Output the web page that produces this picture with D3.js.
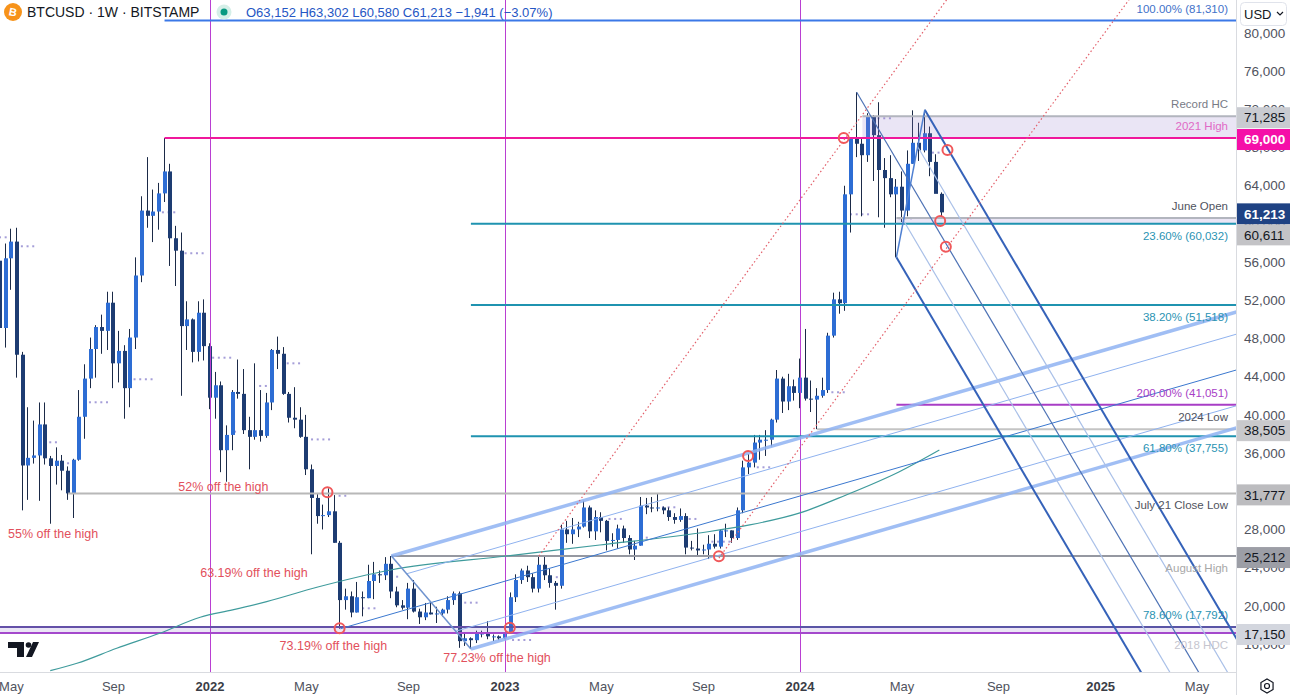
<!DOCTYPE html>
<html>
<head>
<meta charset="utf-8">
<script src="https://cdn.jsdelivr.net/npm/d3@7"></script>
<style>
  body { margin: 0; background: #fff; }
  svg { display: block; font-family: "Liberation Sans", Arial, sans-serif; }
</style>
</head>
<body>
<svg id="chart" width="1290" height="695"></svg>
<script>
// weekly candles: [week start, open, high, low, close]
const candles = [
  ['2021-04-19',56150,56900,47000,49100],['2021-04-26',49100,57950,47050,56400],
  ['2021-05-03',56400,59500,53100,58150],['2021-05-10',58150,59600,43900,46300],
  ['2021-05-17',46300,46600,30000,34700],['2021-05-24',34700,40800,31100,35500],
  ['2021-05-31',35500,39400,34900,35750],['2021-06-07',35750,41300,31000,39000],
  ['2021-06-14',39000,41300,34800,35450],['2021-06-21',35450,35700,28600,34650],
  ['2021-06-28',34650,36600,32700,35200],['2021-07-05',35200,35800,32100,34150],
  ['2021-07-12',34150,34600,31100,31777],['2021-07-19',31777,35400,29200,35300],
  ['2021-07-26',35300,42600,35200,39800],['2021-08-02',39800,45300,37500,43800],
  ['2021-08-09',43800,48100,42800,46900],['2021-08-16',46900,49400,43900,49200],
  ['2021-08-23',49200,50500,46400,48800],['2021-08-30',48800,52900,46800,51750],
  ['2021-09-06',51750,52900,42800,45400],['2021-09-13',45400,48800,43400,46700],
  ['2021-09-20',46700,47300,39600,42800],['2021-09-27',42800,49000,40800,48100],
  ['2021-10-04',48100,56500,46900,54600],['2021-10-11',54600,62900,53900,61400],
  ['2021-10-18',61400,67000,59600,60850],['2021-10-25',60850,63600,58100,61300],
  ['2021-11-01',61300,64300,59400,63200],['2021-11-08',63200,69000,62300,65500],
  ['2021-11-15',65500,66300,55600,58500],['2021-11-22',58500,59800,53500,57200],
  ['2021-11-29',57200,59100,42000,49300],['2021-12-06',49300,51900,46800,50000],
  ['2021-12-13',50000,50100,45500,46600],['2021-12-20',46600,51900,45600,50700],
  ['2021-12-27',50700,52100,45700,47200],
  ['2022-01-03',47200,47500,40600,41800],['2022-01-10',41800,44500,39600,43100],
  ['2022-01-17',43100,43500,34000,36300],['2022-01-24',36300,38900,33000,37900],
  ['2022-01-31',37900,42600,36300,42400],['2022-02-07',42400,45800,41700,42200],
  ['2022-02-14',42200,44800,38000,38400],['2022-02-21',38400,39800,34300,37700],
  ['2022-02-28',37700,45400,37400,38400],['2022-03-07',38400,42600,37200,37800],
  ['2022-03-14',37800,42300,37600,41300],['2022-03-21',41300,46900,40500,46800],
  ['2022-03-28',46800,48200,44800,46400],['2022-04-04',46400,47100,42100,42200],
  ['2022-04-11',42200,42400,39200,39700],['2022-04-18',39700,42900,38600,39500],
  ['2022-04-25',39500,40800,37600,37700],['2022-05-02',37700,40000,33700,34300],
  ['2022-05-09',34300,34800,25400,31300],['2022-05-16',31300,31700,28600,29400],
  ['2022-05-23',29400,30600,28000,29500],['2022-05-30',29500,32300,29300,29900],
  ['2022-06-06',29900,31600,26600,26600],['2022-06-13',26600,26800,17600,20600],
  ['2022-06-20',20600,21800,19600,21000],['2022-06-27',21000,21500,18800,19300],
  ['2022-07-04',19300,22500,19300,20900],['2022-07-11',20900,21500,18900,20800],
  ['2022-07-18',20800,24300,20800,22600],['2022-07-25',22600,24600,20700,23300],
  ['2022-08-01',23300,23700,22400,23200],['2022-08-08',23200,25100,22700,24400],
  ['2022-08-15',24400,25212,20800,21500],['2022-08-22',21500,22000,19850,20050],
  ['2022-08-29',20050,20600,19600,19800],['2022-09-05',19800,22400,18600,21800],
  ['2022-09-12',21800,22700,19300,19400],['2022-09-19',19400,19700,18100,18800],
  ['2022-09-26',18800,20300,18500,19300],['2022-10-03',19300,20500,19100,19100],
  ['2022-10-10',19100,19900,18200,19200],['2022-10-17',19200,19700,18900,19600],
  ['2022-10-24',19600,21000,19200,20600],['2022-10-31',20600,21500,20100,21300],
  ['2022-11-07',21300,21500,15600,16300],['2022-11-14',16300,17200,15800,16600],
  ['2022-11-21',16600,16700,15480,16400],['2022-11-28',16400,17400,16100,17100],
  ['2022-12-05',17100,17400,16700,17100],['2022-12-12',17100,18400,16500,16800],
  ['2022-12-19',16800,17000,16300,16800],['2022-12-26',16800,16900,16400,16600],
  ['2023-01-02',16600,17200,16500,17100],['2023-01-09',17100,21400,17100,20900],
  ['2023-01-16',20900,23300,20400,22700],['2023-01-23',22700,23900,22300,23700],
  ['2023-01-30',23700,24200,22500,23000],['2023-02-06',23000,23400,21400,21800],
  ['2023-02-13',21800,25200,21400,24300],['2023-02-20',24300,25200,22700,23200],
  ['2023-02-27',23200,23900,21900,22400],['2023-03-06',22400,22600,19600,22100],
  ['2023-03-13',22100,28500,21800,28000],['2023-03-20',28000,28900,26600,27500],
  ['2023-03-27',27500,29200,26500,28000],['2023-04-03',28000,28800,27200,28300],
  ['2023-04-10',28300,31000,28200,30300],['2023-04-17',30300,30500,27100,27800],
  ['2023-04-24',27800,30000,26900,29300],['2023-05-01',29300,29800,27700,28900],
  ['2023-05-08',28900,29000,25800,26800],['2023-05-15',26800,27600,26200,26900],
  ['2023-05-22',26900,28500,26000,28100],['2023-05-29',28100,28400,26600,27100],
  ['2023-06-05',27100,27400,25400,25900],['2023-06-12',25900,26800,24800,26300],
  ['2023-06-19',26300,31400,26300,30500],['2023-06-26',30500,31300,29600,30300],
  ['2023-07-03',30300,31400,29800,30200],['2023-07-10',30200,31800,29900,30300],
  ['2023-07-17',30300,30400,29600,30000],['2023-07-24',30000,30300,28900,29300],
  ['2023-07-31',29300,29700,28600,29000],['2023-08-07',29000,30200,28800,29400],
  ['2023-08-14',29400,29700,25400,26100],['2023-08-21',26100,26800,25800,26000],
  ['2023-08-28',26000,28100,25300,25800],['2023-09-04',25800,26400,25400,25900],
  ['2023-09-11',25900,27400,24900,26500],['2023-09-18',26500,27500,26000,26200],
  ['2023-09-25',26200,28000,26000,27900],['2023-10-02',27900,28600,27200,27900],
  ['2023-10-09',27900,27900,26600,27100],['2023-10-16',27100,30300,26900,30000],
  ['2023-10-23',30000,35200,29700,34500],['2023-10-30',34500,35900,33800,35000],
  ['2023-11-06',35000,37900,34500,37100],['2023-11-13',37100,37900,35300,37400],
  ['2023-11-20',37400,38400,35700,37400],['2023-11-27',37400,39600,36700,39500],
  ['2023-12-04',39500,44700,39200,43800],['2023-12-11',43800,44000,40200,41400],
  ['2023-12-18',41400,44300,40500,43000],['2023-12-25',43000,43700,41500,42300],
  ['2024-01-01',42300,45900,40700,43900],['2024-01-08',43900,49000,41500,41700],
  ['2024-01-15',41700,43600,40300,41600],['2024-01-22',41600,42800,38505,42000],
  ['2024-01-29',42000,43900,41800,42600],['2024-02-05',42600,48600,42300,48300],
  ['2024-02-12',48300,52800,48100,52100],['2024-02-19',52100,52900,50600,51700],
  ['2024-02-26',51700,64000,50900,63100],['2024-03-04',63100,69000,59100,68950],
  ['2024-03-11',68950,73800,67000,68400],['2024-03-18',68400,68900,60800,67200],
  ['2024-03-25',67200,71600,66500,71285],['2024-04-01',71285,71400,64500,69300],
  ['2024-04-08',69300,72750,60700,65650],['2024-04-15',65650,66900,59600,64800],
  ['2024-04-22',64800,67200,62800,63100],['2024-04-29',63100,64700,56500,63900],
  ['2024-05-06',63900,65500,60200,61400],['2024-05-13',61400,67700,60800,66300],
  ['2024-05-20',66300,71900,66300,68500],['2024-05-27',68500,70600,66600,67700],
  ['2024-06-03',67700,71950,67500,69500],['2024-06-10',69500,70200,65000,66500],
  ['2024-06-17',66500,67300,63400,63152],['2024-06-24',63152,63302,60580,61213]
];

// moving average line
const maPoints = [
  ['2021-06-20',13210],['2021-07-23',13980],['2021-09-10',15550],['2021-11-02',17120],
  ['2021-12-22',18800],['2022-01-31',19570],['2022-03-14',20440],['2022-05-15',21940],
  ['2022-08-14',23750],['2023-01-04',25220],['2023-04-29',26370],['2023-08-30',27630],
  ['2023-10-31',28470],['2024-01-01',29730],['2024-02-27',31610],['2024-05-02',34020],
  ['2024-06-21',36320]
];

// pivot dot runs: [first week, price, number of weeks]
const pivots = [
  ['2021-04-19',58600,2],['2021-05-16',57660,3],['2021-06-20',37130,2],['2021-07-12',34930,2],
  ['2021-08-08',41320,4],['2021-10-02',43730,4],['2021-11-06',61220,3],['2021-12-04',56930,4],
  ['2022-01-07',45990,4],['2022-02-03',38240,1],['2022-03-06',43030,3],['2022-04-09',45400,3],
  ['2022-05-09',37430,4],['2022-06-12',31530,2],['2022-07-11',19740,3],['2022-08-22',23050,1],
  ['2022-11-14',20330,3],['2023-01-12',16420,4],['2023-03-07',23000,2],['2023-05-11',29100,3],
  ['2023-06-26',27140,1],['2023-07-16',30320,3],['2023-08-18',29100,2],['2023-09-15',26720,4],
  ['2023-11-10',34510,3],['2024-02-10',42370,3],['2024-03-04',61010,4],['2024-03-31',71070,4],
  ['2024-05-03',60590,3],['2024-06-13',67470,2]
];

// horizontal levels: [key, label, price, start]
const levels = [
  ['zoneTop', '', 17792, '2021-04-19'],
  ['hdc', '2018 HDC', 17150, '2021-04-19'],
  ['fib786', '78.60% (17,792)', 17792, '2022-11-21'],
  ['aug', 'August High', 25212, '2022-08-15'],
  ['jul21', 'July 21 Close Low', 31777, '2021-07-12'],
  ['fib618', '61.80% (37,755)', 37755, '2022-11-21'],
  ['low24', '2024 Low', 38505, '2024-01-22'],
  ['ext200', '200.00% (41,051)', 41051, '2024-04-29'],
  ['fib382', '38.20% (51,518)', 51518, '2022-11-21'],
  ['fib236', '23.60% (60,032)', 60032, '2022-11-21'],
  ['june', 'June Open', 60611, '2024-04-29'],
  ['high21', '2021 High', 69000, '2021-11-08'],
  ['hc', 'Record HC', 71285, '2024-03-18'],
  ['ext100', '100.00% (81,310)', 81310, '2021-11-08']
];

// shaded zones: [low, high, start]
const zones = [[69000, 71285, '2024-03-18'], [60032, 60611, '2024-04-29'], [17150, 17792, '2021-04-19']];

const yearLines = ['2022-01-03', '2023-01-02', '2024-01-01'];

// pitchfork anchors [A, B, C]
const upFork = [['2022-06-13', 17600], ['2022-08-15', 25212], ['2022-11-21', 15480]];
const downFork = [['2024-03-11', 73800], ['2024-06-03', 71950], ['2024-04-29', 56500]];

// dotted trend lines through two points
const trendLines = [
  [['2023-02-13', 25212], ['2024-02-26', 69000]],
  [['2023-09-23', 25000], ['2024-07-01', 57600]]
];

const circles = [
  ['2022-05-28', 31900], ['2022-06-12', 17650], ['2023-01-08', 17700], ['2023-09-23', 25200],
  ['2023-10-29', 35700], ['2024-02-24', 69000], ['2024-07-01', 67750], ['2024-06-22', 60300],
  ['2024-06-29', 57600]
];

const notes = [
  ['55% off the high', '2021-04-29', 27520],
  ['52% off the high', '2021-11-25', 32440],
  ['63.19% off the high', '2021-12-22', 23440],
  ['73.19% off the high', '2022-03-30', 15790],
  ['77.23% off the high', '2022-10-18', 14560]
];

// price tags on the scale: [price, key]
const tags = [[71285, 'hc'], [69000, 'high21'], [61213, 'last'], [60611, 'june'],
  [38505, 'low24'], [31777, 'jul21'], [25212, 'aug'], [17150, 'hdc']];

const timeTicks = [
  ['2021-05-03', 'May'], ['2021-09-06', 'Sep'], ['2022-01-03', '2022'], ['2022-05-02', 'May'],
  ['2022-09-05', 'Sep'], ['2023-01-02', '2023'], ['2023-05-01', 'May'], ['2023-09-04', 'Sep'],
  ['2024-01-01', '2024'], ['2024-05-06', 'May'], ['2024-09-02', 'Sep'], ['2025-01-06', '2025'],
  ['2025-05-05', 'May']
];

const header = 'BTCUSD · 1W · BITSTAMP';
const ohlc = 'O63,152 H63,302 L60,580 C61,213 \u22121,941 (\u22123.07%)';

// ---------- styles ----------
const levelStyle = {
  zoneTop: { c: '#6450a8', w: 2 },
  hdc: { c: '#a449cc', w: 2, lc: '#c6c6cf', side: 1 },
  fib786: { c: '#5a55a6', w: 2, lc: '#2a93b3', side: -1 },
  aug: { c: '#9598a1', w: 2, lc: '#a8a8a8', side: 1 },
  jul21: { c: '#b8b8b8', w: 2, lc: '#50535e', side: 1 },
  fib618: { c: '#1f93b0', w: 2, lc: '#2a93b3', side: 1 },
  low24: { c: '#c4c4c4', w: 2, lc: '#50535e', side: -1 },
  ext200: { c: '#a83ec6', w: 2, lc: '#a83ec6', side: -1 },
  fib382: { c: '#1f93b0', w: 2, lc: '#2a93b3', side: 1 },
  fib236: { c: '#1f93b0', w: 2, lc: '#2a93b3', side: 1 },
  june: { c: '#b2b5be', w: 2, lc: '#50535e', side: -1 },
  high21: { c: '#f0189c', w: 2, lc: '#e06ac6', side: -1 },
  hc: { c: '#b2b5be', w: 2, lc: '#787b86', side: -1 },
  ext100: { c: '#3b78e7', w: 2, lc: '#3f72c9', side: -1 }
};
const tagStyle = {
  hc: ['#c9cbd1', '#131722', 400], high21: ['#f50fa8', '#fff', 700], last: ['#1f4283', '#fff', 700],
  june: ['#c3c3c6', '#131722', 400], low24: ['#c9c9cc', '#131722', 400], jul21: ['#bcbcbf', '#131722', 400],
  aug: ['#9c9ea6', '#131722', 400], hdc: ['#d3d6de', '#131722', 400]
};

const W = 1290, H = 695, plotW = 1236, plotH = 672;
const parse = d3.utcParse('%Y-%m-%d');
const x = d3.scaleUtc().domain([parse('2021-04-19'), parse('2025-06-22')]).range([0, plotW]);
const y = d3.scaleLinear().domain([13172, 83457]).range([671, 0]);
const px = s => x(parse(s));
const week = 7 * 864e5;

const svg = d3.select('#chart');
svg.append('rect').attr('width', W).attr('height', H).attr('fill', '#fff');

svg.append('defs').append('clipPath').attr('id', 'plotClip')
  .append('rect').attr('width', plotW).attr('height', plotH);

const plot = svg.append('g').attr('clip-path', 'url(#plotClip)');

// pivot dots
const dots = pivots.flatMap(p => d3.range(p[2]).map(i => [+parse(p[0]) + i * week, p[1]]));
plot.append('g').selectAll('rect').data(dots).join('rect')
  .attr('x', d => x(d[0]) - 1).attr('y', d => y(d[1]) - 1)
  .attr('width', 2).attr('height', 2)
  .attr('fill', '#a59ed8');

// candles
const gC = plot.append('g');
const cx = d => Math.round(px(d[0]));
gC.selectAll('rect.wick').data(candles).join('rect')
  .attr('class', 'wick')
  .attr('x', d => cx(d) - 1)
  .attr('width', 1)
  .attr('y', d => y(d[2]))
  .attr('height', d => y(d[3]) - y(d[2]))
  .attr('fill', '#1b2a47');
gC.selectAll('rect.body').data(candles).join('rect')
  .attr('class', 'body')
  .attr('x', d => cx(d) - 2)
  .attr('width', 4)
  .attr('y', d => y(Math.max(d[1], d[4])))
  .attr('height', d => Math.max(1, Math.abs(y(d[1]) - y(d[4]))))
  .attr('fill', d => d[4] >= d[1] ? '#2d6dd4' : '#1d3c72');

// zones
plot.append('g').selectAll('rect').data(zones).join('rect')
  .attr('x', d => px(d[2]))
  .attr('width', d => plotW - px(d[2]))
  .attr('y', d => y(d[1]))
  .attr('height', d => y(d[0]) - y(d[1]))
  .attr('fill', 'rgba(150,125,205,0.2)');

// year separators
plot.append('g').selectAll('line').data(yearLines).join('line')
  .attr('x1', d => Math.round(px(d)) + 0.5).attr('x2', d => Math.round(px(d)) + 0.5)
  .attr('y1', 0).attr('y2', plotH)
  .attr('stroke', '#b93fd2').attr('stroke-width', 1);

// horizontal levels
plot.append('g').selectAll('line').data(levels).join('line')
  .attr('x1', d => px(d[3])).attr('x2', plotW)
  .attr('y1', d => y(d[2])).attr('y2', d => y(d[2]))
  .attr('stroke', d => levelStyle[d[0]].c)
  .attr('stroke-width', d => levelStyle[d[0]].w);

// moving average
plot.append('path')
  .datum(maPoints)
  .attr('fill', 'none')
  .attr('stroke', '#3f9b9c')
  .attr('stroke-width', 1.2)
  .attr('d', d3.line().x(d => px(d[0])).y(d => y(d[1])).curve(d3.curveMonotoneX));

// pitchforks
const gD = plot.append('g');
function seg(p, q, s) {
  gD.append('line')
    .attr('x1', p[0]).attr('y1', p[1]).attr('x2', q[0]).attr('y2', q[1])
    .attr('stroke', s[0]).attr('stroke-width', s[1]).attr('stroke-opacity', s[2] || 1);
}
function drawFork(anchors, ks, st) {
  const [A, B, C] = anchors.map(a => [px(a[0]), y(a[1])]);
  const M = [(B[0] + C[0]) / 2, (B[1] + C[1]) / 2];
  const d = [M[0] - A[0], M[1] - A[1]];
  const far = 40;
  const ext = p => [p[0] + d[0] * far, p[1] + d[1] * far];
  ks.forEach(k => {
    const P = [M[0] + k * (B[0] - M[0]), M[1] + k * (B[1] - M[1])];
    seg(P, ext(P), st.inner);
  });
  seg(B, ext(B), st.tine);
  seg(C, ext(C), st.tine);
  seg(A, ext(A), st.median);
  seg(B, C, st.handle);
}
drawFork(upFork, [0.618, -0.618], {
  inner: ['#8fb2ef', 1], tine: ['#8fb3f2', 3.5, 0.85], median: ['#3b78cf', 1], handle: ['#6f93cf', 1.5]
});
drawFork(downFork, [0.5, -0.5], {
  inner: ['#a9c0e8', 1.2], tine: ['#3562b9', 2], median: ['#4d72b5', 1.2], handle: ['#4f80d2', 1.5]
});

// dotted trend lines
trendLines.forEach(t => {
  const p = [px(t[0][0]), y(t[0][1])], q = [px(t[1][0]), y(t[1][1])];
  const far = 10;
  gD.append('line')
    .attr('x1', p[0]).attr('y1', p[1])
    .attr('x2', p[0] + (q[0] - p[0]) * far).attr('y2', p[1] + (q[1] - p[1]) * far)
    .attr('stroke', '#e3606b').attr('stroke-width', 1.2).attr('stroke-dasharray', '1.5,2.5');
});

// circles
plot.append('g').selectAll('circle').data(circles).join('circle')
  .attr('cx', d => px(d[0])).attr('cy', d => y(d[1])).attr('r', 5)
  .attr('fill', 'none').attr('stroke', '#f0585a').attr('stroke-width', 2);

// notes
plot.append('g').selectAll('text').data(notes).join('text')
  .attr('x', d => px(d[1])).attr('y', d => y(d[2]))
  .attr('dy', '0.35em')
  .attr('font-size', 12.5)
  .attr('fill', '#e2505c')
  .text(d => d[0]);

// level labels
plot.append('g').selectAll('text').data(levels.filter(d => d[1])).join('text')
  .attr('x', 1228)
  .attr('y', d => y(d[2]) + levelStyle[d[0]].side * 12)
  .attr('dy', '0.35em')
  .attr('text-anchor', 'end')
  .attr('font-size', 11.5)
  .attr('fill', d => levelStyle[d[0]].lc)
  .text(d => d[1]);

// TradingView logo
const logo = svg.append('g').attr('fill', '#131722');
logo.append('path').attr('d', 'M8,642 H24 V657 H17 V648 H8 Z');
logo.append('circle').attr('cx', 28.5).attr('cy', 645).attr('r', 2.8);
logo.append('path').attr('d', 'M33,642 H39 L32,657 H26 Z');

// time axis
svg.append('line').attr('x1', 0).attr('x2', plotW).attr('y1', plotH + 0.5).attr('y2', plotH + 0.5)
  .attr('stroke', '#d9dbe0');
svg.append('g').selectAll('text').data(timeTicks).join('text')
  .attr('x', d => px(d[0])).attr('y', 686).attr('dy', '0.35em')
  .attr('text-anchor', 'middle')
  .attr('font-size', 13)
  .attr('font-weight', d => /^\d/.test(d[1]) ? 700 : 400)
  .attr('fill', d => /^\d/.test(d[1]) ? '#3a3d46' : '#50535e')
  .text(d => d[1]);

// price tags, stacked so they do not overlap
const tagH = 21;
let prev = -Infinity;
const placed = tags.slice().sort((a, b) => b[0] - a[0]).map(t => {
  let c = y(t[0]) + 1.5;
  if (c < prev + tagH) c = prev + tagH;
  prev = c;
  return [t, c];
});

// price axis
const axisG = svg.append('g');
axisG.append('rect').attr('x', plotW).attr('width', W - plotW).attr('height', H).attr('fill', '#fff');
axisG.append('line').attr('x1', plotW + 0.5).attr('x2', plotW + 0.5).attr('y1', 0).attr('y2', H)
  .attr('stroke', '#d9dbe0');
// tick labels that a tag covers completely are not drawn
const ticks = d3.range(16000, 80001, 4000)
  .filter(v => !placed.some(([, c]) => Math.abs(c - y(v)) < 5));
axisG.selectAll('text.tick').data(ticks).join('text')
  .attr('class', 'tick')
  .attr('x', 1244).attr('y', d => y(d)).attr('dy', '0.35em')
  .attr('font-size', 13.5).attr('fill', '#50535e')
  .text(d3.format(','));

placed.forEach(([t, c]) => {
  const s = tagStyle[t[1]];
  axisG.append('rect').attr('x', plotW + 1).attr('y', c - tagH / 2).attr('width', W - plotW - 1)
    .attr('height', tagH).attr('fill', s[0]);
  axisG.append('text').attr('x', 1244).attr('y', c).attr('dy', '0.35em')
    .attr('font-size', 13.5).attr('font-weight', s[2]).attr('fill', s[1])
    .text(d3.format(',')(t[0]));
});

// currency selector
axisG.append('rect').attr('x', 1240.5).attr('y', 2.5).attr('width', 46).attr('height', 23).attr('rx', 4)
  .attr('fill', '#fff').attr('stroke', '#e0e3eb');
axisG.append('text').attr('x', 1244).attr('y', 14).attr('dy', '0.35em')
  .attr('font-size', 13).attr('fill', '#131722').text('USD');
axisG.append('path').attr('d', 'M1277,12 l3,3 l3,-3').attr('fill', 'none')
  .attr('stroke', '#131722').attr('stroke-width', 1.2);

// settings icon
const hex = d3.range(6).map(i => {
  const a = Math.PI / 3 * i + Math.PI / 6;
  return [1267 + 7 * Math.cos(a), 686 + 7 * Math.sin(a)];
});
svg.append('path').attr('d', 'M' + hex.join('L') + 'Z').attr('fill', 'none')
  .attr('stroke', '#131722').attr('stroke-width', 1.2);
svg.append('circle').attr('cx', 1267).attr('cy', 686).attr('r', 2.5).attr('fill', 'none')
  .attr('stroke', '#131722').attr('stroke-width', 1.2);

// header
const hd = svg.append('g');
hd.append('circle').attr('cx', 13).attr('cy', 12).attr('r', 9).attr('fill', '#f7931a');
hd.append('text').attr('x', 13).attr('y', 12).attr('dy', '0.35em').attr('text-anchor', 'middle')
  .attr('font-size', 11).attr('font-weight', 700).attr('fill', '#fff')
  .attr('transform', 'rotate(12,13,12)').text('B');
hd.append('text').attr('x', 27).attr('y', 12).attr('dy', '0.35em')
  .attr('font-size', 14).attr('fill', '#131722').text(header);
hd.append('circle').attr('cx', 224).attr('cy', 12).attr('r', 7.5).attr('fill', '#d5efe8');
hd.append('circle').attr('cx', 224).attr('cy', 12).attr('r', 3.5).attr('fill', '#089981');
hd.append('text').attr('x', 246).attr('y', 12).attr('dy', '0.35em')
  .attr('font-size', 13).attr('fill', '#2556c4').text(ohlc);
</script>
</body>
</html>
